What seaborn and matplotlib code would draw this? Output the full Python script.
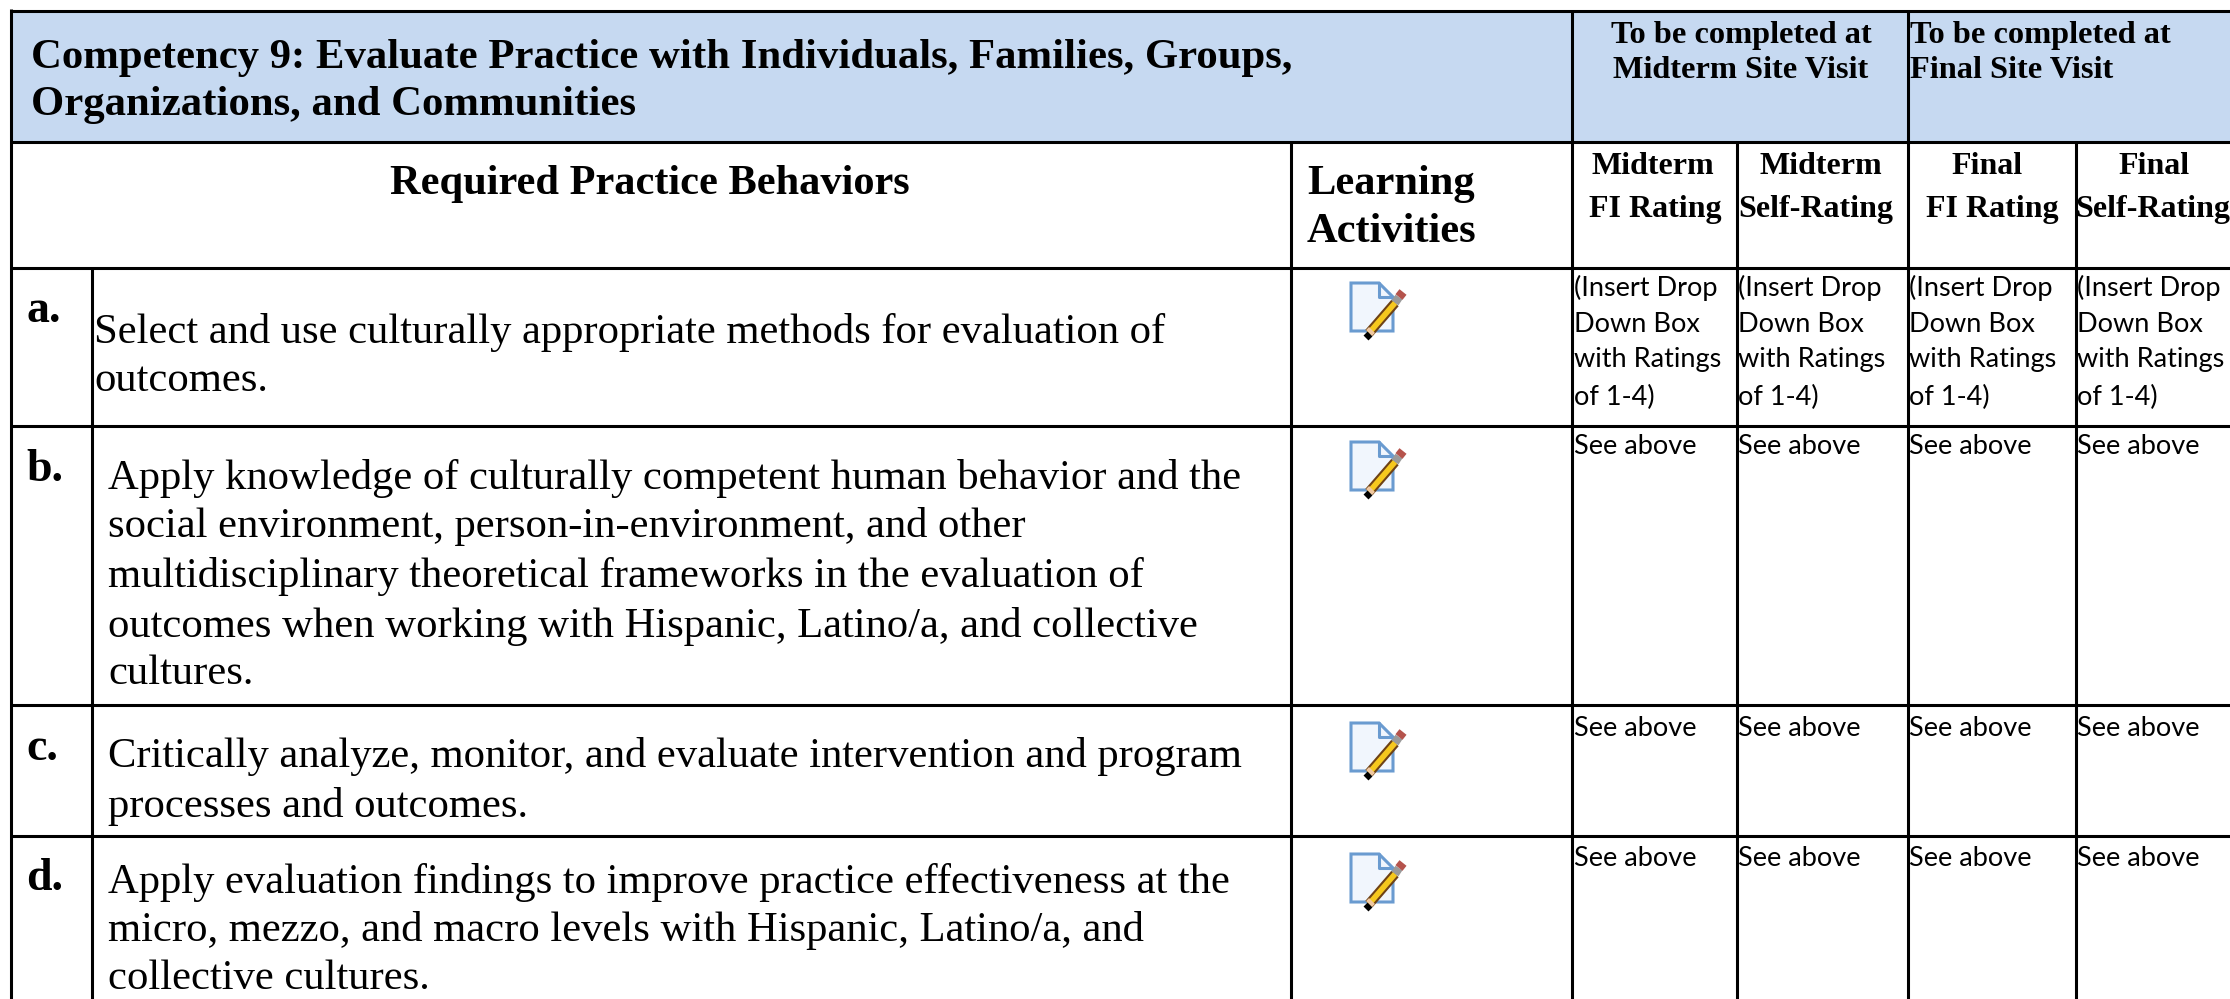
"""Competency 9 rating table, redrawn on a seaborn/matplotlib pixel canvas."""
import matplotlib
matplotlib.use("Agg")
import matplotlib.pyplot as plt
import pandas as pd
import seaborn as sns

sns.set_theme(style="white")

SERIF = "Liberation Serif"
SANS = "Lato"

# table text
title_lines = [
    "Competency 9: Evaluate Practice with Individuals, Families, Groups,",
    "Organizations, and Communities",
]
midterm_head = ["To be completed at", "Midterm Site Visit"]
final_head = ["To be completed at", "Final Site Visit"]
behaviors_head = "Required Practice Behaviors"
activities_head = ["Learning", "Activities"]
rating_heads = [
    ["Midterm", "FI Rating"],
    ["Midterm", "Self-Rating"],
    ["Final", "FI Rating"],
    ["Final", "Self-Rating"],
]
row_letters = ["a.", "b.", "c.", "d."]
row_text = [
    ["Select and use culturally appropriate methods for evaluation of", "outcomes."],
    [
        "Apply knowledge of culturally competent human behavior and the",
        "social environment, person-in-environment, and other",
        "multidisciplinary theoretical frameworks in the evaluation of",
        "outcomes when working with Hispanic, Latino/a, and collective",
        "cultures.",
    ],
    ["Critically analyze, monitor, and evaluate intervention and program",
     "processes and outcomes."],
    ["Apply evaluation findings to improve practice effectiveness at the",
     "micro, mezzo, and macro levels with Hispanic, Latino/a, and",
     "collective cultures."],
]
dropdown_text = ["(Insert Drop", "Down Box", "with Ratings", "of 1-4)"]
see_above = "See above"

# layout, in reference pixels
W, H = 2230, 999
h_rules = [11, 142, 268, 426, 705, 836]
v_rules = [(11, 9), (92, 268), (1291, 142), (1572, 11), (1737, 142), (1908, 11), (2076, 142)]
rating_left = [1574, 1738, 1909, 2077]
rating_center = [1653, 1821, 1987, 2154]
rating_center2 = [1655, 1816, 1992, 2153]
letter_y = [311, 470, 749, 879]
row_x = [94, 108, 108, 108]
row_y = [[332, 381], [478, 527, 576, 626, 674], [757, 806], [882, 930, 979]]
icon_y = [283, 442, 723, 854]
dropdown_y = [288, 324, 360, 397]
see_above_y = [447, 728, 859]


def draw_icon(ax, x0, y0):
    # note page with folded corner plus the pencil across it
    page = [(0, 0), (28, 0), (42, 14), (42, 48), (0, 48)]
    ax.fill(*zip(*[(x0 + x, y0 + y) for x, y in page]), fc="#f1f6fd", ec="#6a9bd0", lw=2.2, zorder=3)
    fold = [(28, 0), (28, 14), (42, 14)]
    ax.plot(*zip(*[(x0 + x, y0 + y) for x, y in fold]), color="#6a9bd0", lw=2.2, zorder=4)
    ax.plot([x0 + 18, x0 + 44], [y0 + 50, y0 + 20], color="#6e4216", lw=7, solid_capstyle="butt", zorder=5)
    ax.plot([x0 + 18, x0 + 44], [y0 + 50, y0 + 20], color="#f6c81e", lw=4, solid_capstyle="butt", zorder=6)
    ax.plot([x0 + 44, x0 + 48], [y0 + 20, y0 + 14], color="#9a9a9a", lw=6, solid_capstyle="butt", zorder=5)
    ax.plot([x0 + 48, x0 + 52], [y0 + 14, y0 + 9], color="#b5534c", lw=6.5, solid_capstyle="butt", zorder=5)
    ax.plot([x0 + 18, x0 + 21], [y0 + 50, y0 + 47], color="#f0c8a0", lw=6, solid_capstyle="butt", zorder=7)
    ax.plot([x0 + 15, x0 + 19], [y0 + 55, y0 + 51], color="black", lw=5, solid_capstyle="butt", zorder=7)


def line_text(ax, x, y, text, size, bold=False, family=SERIF, ha="left"):
    ax.text(x, y, text, fontsize=size, family=family, ha=ha, va="center",
            fontweight="bold" if bold else "normal", color="black", zorder=8)


def main():
    fig = plt.figure(figsize=(W / 100, H / 100), dpi=100, facecolor="white")
    ax = fig.add_axes([0, 0, 1, 1])

    ax.fill_between([11, W], 11, 142, color="#c6d9f1", lw=0, zorder=0)

    rows = []
    for i, y in enumerate(h_rules):
        rows += [{"rule": f"h{i}", "x": 11, "y": y}, {"rule": f"h{i}", "x": W, "y": y}]
    for i, (x, top) in enumerate(v_rules):
        rows += [{"rule": f"v{i}", "x": x, "y": top}, {"rule": f"v{i}", "x": x, "y": H}]
    sns.lineplot(data=pd.DataFrame(rows), x="x", y="y", units="rule", estimator=None, sort=False,
                 color="black", linewidth=2.2, legend=False, ax=ax, zorder=2,
                 solid_capstyle="butt")

    for line, y in zip(title_lines, [58, 105]):
        line_text(ax, 31, y, line, 30.8, bold=True)
    for line, y in zip(midterm_head, [35, 71]):
        line_text(ax, 1741, y, line, 23.3, bold=True, ha="center")
    for line, y in zip(final_head, [35, 71]):
        line_text(ax, 1910, y, line, 23.3, bold=True)

    line_text(ax, 650, 184, behaviors_head, 30.5, bold=True, ha="center")
    for line, y in zip(activities_head, [184, 232]):
        line_text(ax, 1307, y, line, 30.6, bold=True)
    for x1, x2, head in zip(rating_center, rating_center2, rating_heads):
        line_text(ax, x1, 167, head[0], 23, bold=True, ha="center")
        line_text(ax, x2, 209, head[1], 23, bold=True, ha="center")

    for letter, y in zip(row_letters, letter_y):
        line_text(ax, 26, y, letter, 33, bold=True)
    for x, lines, ys in zip(row_x, row_text, row_y):
        for line, y in zip(lines, ys):
            line_text(ax, x, y, line, 30.7)

    for y in icon_y:
        draw_icon(ax, 1351, y)

    for x in rating_left:
        for line, y in zip(dropdown_text, dropdown_y):
            line_text(ax, x, y, line, 19.5, family=SANS)
        for y in see_above_y:
            line_text(ax, x, y, see_above, 19.5, family=SANS)

    ax.set_xlim(0, W)
    ax.set_ylim(H, 0)
    ax.set_axis_off()
    fig.savefig("out.png", dpi=100)
    plt.close(fig)


if __name__ == "__main__":
    main()
